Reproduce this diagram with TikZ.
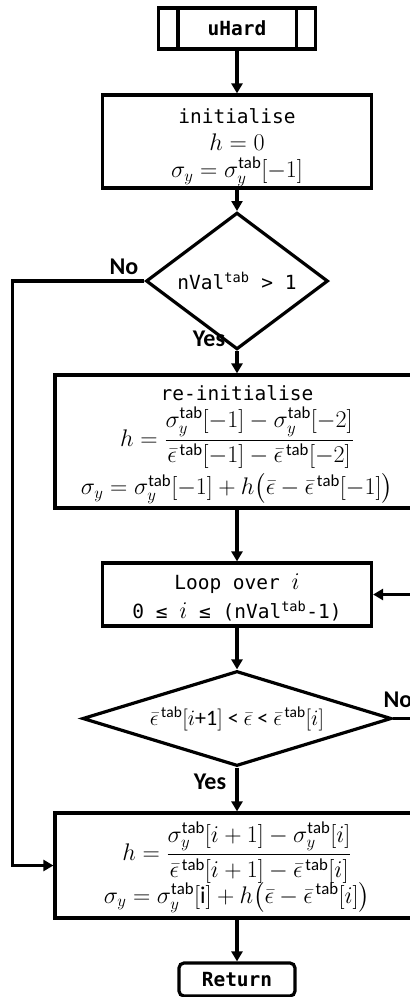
\RequirePackage{fix-cm}
\documentclass[tikz,border=0pt]{standalone}
\usepackage{amsmath}
\usepackage{fontspec}
\setmainfont{Carlito}
\setmonofont{DejaVu Sans Mono}
\usetikzlibrary{shapes.geometric,arrows.meta}
\newcommand\mtx[1]{{\fontsize{19.5}{26}\selectfont\ttfamily #1}}
\begin{document}
\begin{tikzpicture}[x=1pt,y=-1pt,
  every node/.style={font=\fontsize{24}{27}\selectfont},
  box/.style={draw,line width=3.2pt,rectangle,inner sep=0pt,align=center},
  dia/.style={draw,line width=3.2pt,diamond,inner sep=0pt,align=center},
  arr/.style={line width=3.2pt,-{Triangle[length=10pt,width=11pt]}},
  lbl/.style={font=\fontsize{24}{26}\selectfont\bfseries}]
\useasboundingbox (0,0) rectangle (410,997);
\clip (0,0) rectangle (410,997);
\node[box,minimum width=157pt,minimum height=41pt] (u) at (237,28.5) {\mtx{\bfseries uHard}};
\draw[line width=3.2pt] ([xshift=21pt]u.north west) -- ([xshift=21pt]u.south west);
\draw[line width=3.2pt] ([xshift=-21pt]u.north east) -- ([xshift=-21pt]u.south east);
\node[box,minimum width=269pt,minimum height=93pt] (init) at (237,141.5)
  {\rule{0pt}{27pt}\mtx{initialise}\\[0pt] $h=0$\\[0pt] $\sigma_y=\sigma_y^{\mathrm{tab}}[-1]$};
\node[dia,minimum width=182pt,minimum height=94pt] (d1) at (237,281)
  {\mtx{nVal\textsuperscript{tab} > 1}};
\node[box,minimum width=364pt,minimum height=133pt] (re) at (237,441.5)
  {\rule{0pt}{21pt}\mtx{re-initialise}\\[6pt]
   $h=\dfrac{\sigma_y^{\mathrm{tab}}[-1]-\sigma_y^{\mathrm{tab}}[-2]}{\bar\epsilon^{\,\mathrm{tab}}[-1]-\bar\epsilon^{\,\mathrm{tab}}[-2]}$\\[4pt]
   $\sigma_y=\sigma_y^{\mathrm{tab}}[-1]+h\bigl(\bar\epsilon-\bar\epsilon^{\,\mathrm{tab}}[-1]\bigr)$};
\node[box,minimum width=269pt,minimum height=63pt] (loop) at (237,594.5)
  {\rule{0pt}{22pt}\mtx{Loop over }$i$\\[2pt] \mtx{0 ≤ }$i$\mtx{ ≤ (nVal\textsuperscript{tab}-1)}};
\node[dia,minimum width=309pt,minimum height=95pt] (d2) at (237,718.5)
  {\makebox[0pt]{\fontsize{22}{26}\selectfont$\bar\epsilon^{\,\mathrm{tab}}[i$+1$]$ < $\bar\epsilon$ < $\bar\epsilon^{\,\mathrm{tab}}[i]$}};
\node[box,minimum width=364pt,minimum height=105pt] (last) at (237,865.5)
  {\rule{0pt}{42pt}$h=\dfrac{\sigma_y^{\mathrm{tab}}[i+1]-\sigma_y^{\mathrm{tab}}[i]}{\bar\epsilon^{\,\mathrm{tab}}[i+1]-\bar\epsilon^{\,\mathrm{tab}}[i]}$\\[-2pt]
   $\sigma_y=\sigma_y^{\mathrm{tab}}[\mathrm{i}]+h\bigl(\bar\epsilon-\bar\epsilon^{\,\mathrm{tab}}[i]\bigr)$};
\node[box,rounded corners=5pt,minimum width=116pt,minimum height=33pt] (ret) at (237,979.5)
  {\mtx{\bfseries Return}};
\draw[arr] (u.south) -- (init.north);
\draw[arr] (init.south) -- (d1.north);
\draw[arr] (d1.west) -- ++(-132,0) |- (last.west);
\node[lbl] (no1) at (124,267) {No};
\draw[arr] (d1.south) -- (re.north);
\node[lbl] (yes1) at (209,339) {Yes};
\draw[arr] (re.south) -- (loop.north);
\draw[arr] (loop.south) -- (d2.north);
\draw[arr] (d2.east) -- ++(40,0) |- (loop.east);
\node[lbl] (no2) at (398,700) {No};
\draw[arr] (d2.south) -- (last.north);
\node[lbl] (yes2) at (210,782) {Yes};
\draw[arr] (last.south) -- (ret.north);
\end{tikzpicture}
\end{document}
